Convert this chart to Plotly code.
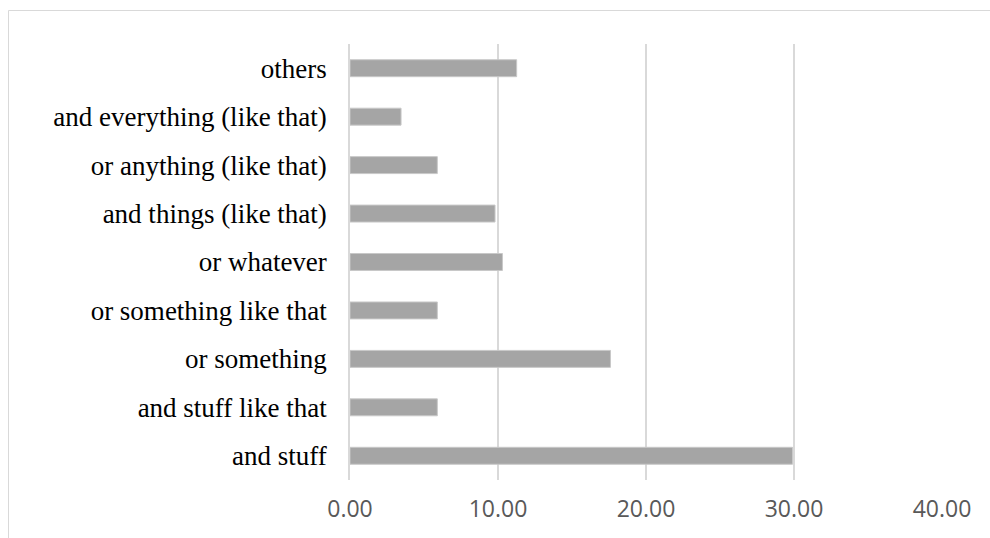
import plotly.graph_objects as go

categories = ["and stuff", "and stuff like that", "or something", "or something like that",
              "or whatever", "and things (like that)", "or anything (like that)",
              "and everything (like that)", "others"]
values = [29.9, 5.9, 17.6, 5.9, 10.3, 9.8, 5.9, 3.45, 11.26]
x_ticks = [0, 10, 20, 30, 40]

W, H = 990, 538
L, R, T, B = 350, 48, 44, 58
pw, ph = W - L - R, H - T - B

fig = go.Figure(go.Bar(
    x=values, y=categories, orientation="h",
    marker=dict(color="#a5a5a5", line=dict(color="#c8c8c8", width=1)),
))

# outer chart border (top-left part visible)
bx0 = (8.5 - L) / pw
by1 = (H - B - 10.5) / ph
fig.add_shape(type="rect", xref="paper", yref="paper",
              x0=bx0, x1=1.2, y0=-0.3, y1=by1,
              line=dict(color="#d9d9d9", width=1), fillcolor="rgba(0,0,0,0)", layer="below")

fig.update_layout(
    width=W, height=H,
    margin=dict(l=L, r=R, t=T, b=B, pad=0),
    paper_bgcolor="white", plot_bgcolor="white",
    bargap=0.65, showlegend=False,
    xaxis=dict(range=[0, 40], tickvals=x_ticks, tickformat=".2f",
               showgrid=True, gridcolor="#d9d9d9", gridwidth=1.5,
               zeroline=False, showline=False, ticks="",
               tickfont=dict(family="Open Sans", size=23, color="#595959"),
               ticklabelstandoff=13),
    yaxis=dict(categoryorder="array", categoryarray=categories,
               showline=True, linecolor="#d9d9d9", linewidth=1.5,
               showgrid=False, ticks="",
               tickfont=dict(family="Liberation Serif", size=27, color="#000000"),
               ticklabelstandoff=16),
)

fig.write_html("out.html")
